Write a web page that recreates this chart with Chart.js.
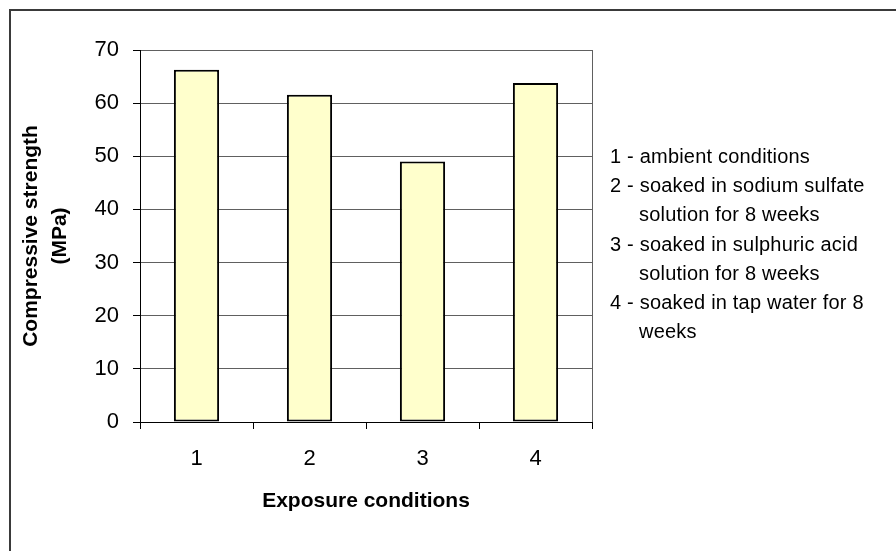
<!DOCTYPE html>
<html>
<head>
<meta charset="utf-8">
<script src="https://cdn.jsdelivr.net/npm/chart.js@4.4.1/dist/chart.umd.min.js"></script>
<style>
  html, body { margin: 0; padding: 0; background: #ffffff; }
  canvas { display: block; }
</style>
</head>
<body>
<canvas id="c" width="896" height="551"></canvas>
<script>
// Exposure condition numbers along the category axis
const categories = ['1', '2', '3', '4'];
// Compressive strength (MPa) for each exposure condition
const strength = [66.3, 61.6, 49.0, 63.8];
// Value axis ticks
const yTicks = [0, 10, 20, 30, 40, 50, 60, 70];
// Key to the exposure conditions, printed beside the plot
const conditionNotes = [
  { text: '1 - ambient conditions', indent: false },
  { text: '2 - soaked in sodium sulfate', indent: false },
  { text: 'solution for 8 weeks', indent: true },
  { text: '3 - soaked in sulphuric acid', indent: false },
  { text: 'solution for 8 weeks', indent: true },
  { text: '4 - soaked in tap water for 8', indent: false },
  { text: 'weeks', indent: true }
];

const FONT = "'Liberation Sans', Arial, Helvetica, sans-serif";

// Frame lines, right edge of the plot and the condition key
const decorations = {
  id: 'decorations',
  beforeDatasetsDraw(chart) {
    const { ctx, chartArea } = chart;
    ctx.save();
    ctx.strokeStyle = '#606060';
    ctx.lineWidth = 1;
    ctx.beginPath();
    const x = Math.round(chartArea.right) + 0.5;
    ctx.moveTo(x, chartArea.top);
    ctx.lineTo(x, chartArea.bottom);
    ctx.stroke();
    ctx.restore();
  },
  afterDraw(chart) {
    const { ctx } = chart;
    ctx.save();
    // outer frame
    ctx.strokeStyle = '#3a3a3a';
    ctx.lineWidth = 2;
    ctx.beginPath();
    ctx.moveTo(10, 551);
    ctx.lineTo(10, 10);
    ctx.lineTo(896, 10);
    ctx.stroke();

    // condition key
    ctx.fillStyle = '#000000';
    ctx.font = '20px ' + FONT;
    ctx.textBaseline = 'alphabetic';
    ctx.textAlign = 'left';
    if ('letterSpacing' in ctx) ctx.letterSpacing = '0.2px';
    const x0 = 610, x1 = 639, y0 = 163, step = 29.2;
    conditionNotes.forEach((line, i) => {
      ctx.fillText(line.text, line.indent ? x1 : x0, y0 + i * step);
    });
    ctx.restore();
  }
};

new Chart(document.getElementById('c'), {
  type: 'bar',
  data: {
    labels: categories,
    datasets: [{
      data: strength,
      backgroundColor: '#FFFFCC',
      borderColor: '#000000',
      borderWidth: 2,
      borderSkipped: false,
      barPercentage: 0.4,
      categoryPercentage: 1.0
    }]
  },
  options: {
    responsive: false,
    animation: false,
    devicePixelRatio: 1,
    layout: { padding: { top: 50, left: 0, right: 304, bottom: 0 } },
    plugins: {
      legend: { display: false },
      tooltip: { enabled: false },
      title: { display: false }
    },
    scales: {
      x: {
        offset: true,
        grid: {
          display: true,
          drawOnChartArea: false,
          drawTicks: true,
          tickLength: 7,
          tickColor: '#000000',
          offset: true
        },
        border: { display: true, color: '#000000', width: 1 },
        ticks: {
          color: '#000000',
          font: { family: FONT, size: 22 },
          padding: 17
        },
        title: {
          display: true,
          text: 'Exposure conditions',
          color: '#000000',
          font: { family: FONT, size: 21, weight: 'bold' },
          padding: { top: 0, bottom: 37 }
        },
        afterFit(scale) { scale.height = 129; }
      },
      y: {
        min: yTicks[0],
        max: yTicks[yTicks.length - 1],
        grid: {
          color: (c) => (c.tick && c.tick.value === 0 ? '#000000' : '#606060'),
          lineWidth: 1,
          drawTicks: true,
          tickLength: 7,
          tickColor: '#000000'
        },
        border: { display: true, color: '#000000', width: 1 },
        ticks: {
          stepSize: yTicks[1] - yTicks[0],
          color: '#000000',
          font: { family: FONT, size: 22 },
          padding: 14
        },
        title: {
          display: true,
          text: ['Compressive strength', '(MPa)'],
          color: '#000000',
          font: { family: FONT, size: 21, weight: 'bold', lineHeight: '29px' },
          padding: { top: 16.5, bottom: 0 }
        },
        afterFit(scale) { scale.width = 140; }
      }
    }
  },
  plugins: [decorations]
});
</script>
</body>
</html>
